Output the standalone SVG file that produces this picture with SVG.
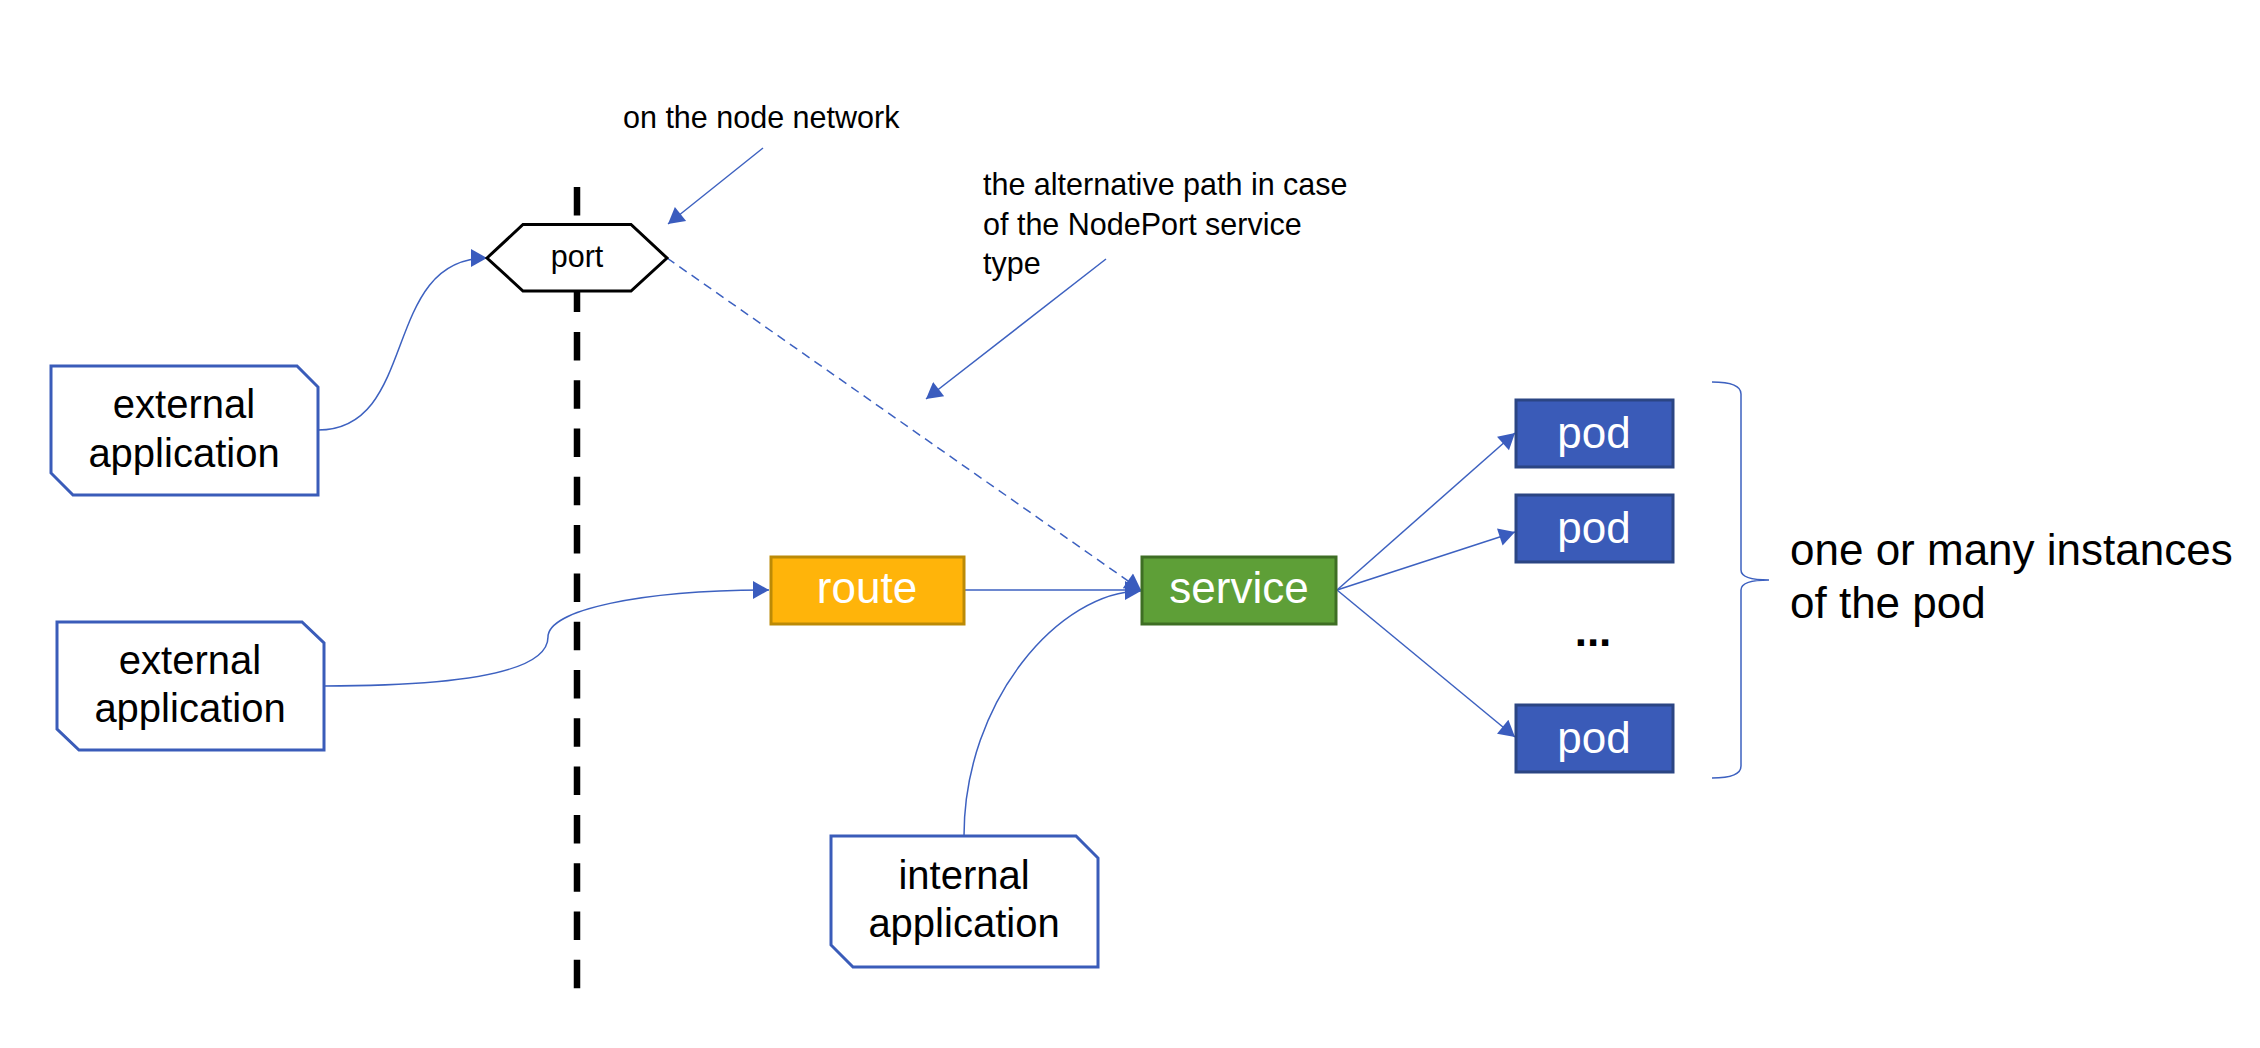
<svg xmlns="http://www.w3.org/2000/svg" width="2260" height="1048" viewBox="0 0 2260 1048">
<style>
text{font-family:"Liberation Sans",Arial,sans-serif;}
.app{fill:#fff;stroke:#3A5CB9;stroke-width:3;}
.appt{font-size:40px;fill:#000;text-anchor:middle;}
.note{font-size:30.5px;fill:#000;}
.lbl{font-size:44px;fill:#fff;text-anchor:middle;}
.conn{fill:none;stroke:#3D61C0;stroke-width:1.5;}
.pod{fill:#3A5BB8;stroke:#2B4583;stroke-width:3;}
</style>
<defs>
<marker id="ah" markerUnits="userSpaceOnUse" markerWidth="18" markerHeight="18" viewBox="0 0 16 18" refX="16" refY="9" orient="auto">
<path d="M0,0 L16,9 L0,18 Z" fill="#3A5CBE"/>
</marker>
</defs>
<rect width="2260" height="1048" fill="#fff"/>
<g id="boundary">
<line x1="577" y1="187" x2="577" y2="989" stroke="#000" stroke-width="6.5" stroke-dasharray="28.5 19.8"/>
</g>
<g id="connectors">
<path class="conn" d="M318,430 C420,430 380,258 487,258" marker-end="url(#ah)"/>
<path class="conn" d="M324,686 C480,686 548,668 548,637 C548,610 640,590 769,590" marker-end="url(#ah)"/>
<line class="conn" x1="964" y1="590" x2="1141" y2="590" marker-end="url(#ah)"/>
<path class="conn" d="M964,836 C964,700 1060,591 1141,591" marker-end="url(#ah)"/>
<line class="conn" x1="667" y1="258" x2="1141" y2="590" stroke-dasharray="9 6" stroke-width="2" marker-end="url(#ah)"/>
<line class="conn" x1="1337" y1="590" x2="1515" y2="433" marker-end="url(#ah)"/>
<line class="conn" x1="1337" y1="590" x2="1515" y2="532" marker-end="url(#ah)"/>
<line class="conn" x1="1337" y1="590" x2="1515" y2="737" marker-end="url(#ah)"/>
<line class="conn" x1="763" y1="148" x2="668" y2="224" marker-end="url(#ah)"/>
<line class="conn" x1="1106" y1="259" x2="926" y2="399" marker-end="url(#ah)"/>
<path class="conn" d="M1712,382 Q1741,382 1741,394 L1741,570 Q1741,580 1769,580 Q1741,580 1741,590 L1741,766 Q1741,778 1712,778"/>
</g>
<g id="port">
<polygon points="487,258 523,224.5 631,224.5 667,258 631,291 523,291" fill="#fff" stroke="#000" stroke-width="3"/>
<text x="577" y="267" font-size="30.5" text-anchor="middle">port</text>
</g>
<g id="ext-app-1">
<path class="app" d="M51,366 L297,366 L318,387 L318,495 L73,495 L51,473 Z"/>
<text class="appt" x="184" y="418">external</text>
<text class="appt" x="184" y="467">application</text>
</g>
<g id="ext-app-2">
<path class="app" d="M57,622 L302,622 L324,643 L324,750 L79,750 L57,729 Z"/>
<text class="appt" x="190" y="674">external</text>
<text class="appt" x="190" y="722">application</text>
</g>
<g id="int-app">
<path class="app" d="M831,836 L1076,836 L1098,858 L1098,967 L853,967 L831,945 Z"/>
<text class="appt" x="964" y="889">internal</text>
<text class="appt" x="964" y="937">application</text>
</g>
<g id="route">
<rect x="771" y="557" width="193" height="67" fill="#FFB40A" stroke="#BC8A06" stroke-width="3"/>
<text class="lbl" x="867" y="603">route</text>
</g>
<g id="service">
<rect x="1142" y="557" width="194" height="67" fill="#5E9F37" stroke="#3E6E24" stroke-width="3"/>
<text class="lbl" x="1239" y="603">service</text>
</g>
<g id="pod-1">
<rect class="pod" x="1516" y="400" width="157" height="67"/>
<text class="lbl" x="1594" y="448">pod</text>
</g>
<g id="pod-2">
<rect class="pod" x="1516" y="495" width="157" height="67"/>
<text class="lbl" x="1594" y="543">pod</text>
</g>
<g id="pod-dots">
<text x="1593" y="646" font-size="44" font-weight="bold" text-anchor="middle" fill="#000">...</text>
</g>
<g id="pod-3">
<rect class="pod" x="1516" y="705" width="157" height="67"/>
<text class="lbl" x="1594" y="753">pod</text>
</g>
<g id="notes">
<text class="note" x="623" y="128">on the node network</text>
<text class="note" x="983" y="195">the alternative path in case</text>
<text class="note" x="983" y="235">of the NodePort service</text>
<text class="note" x="983" y="274">type</text>
<text x="1790" y="565" font-size="44" fill="#000">one or many instances</text>
<text x="1790" y="618" font-size="44" fill="#000">of the pod</text>
</g>
</svg>
